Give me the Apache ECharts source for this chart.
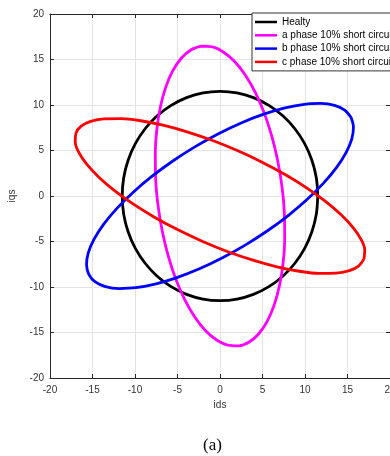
<!DOCTYPE html>
<html>
<head>
<meta charset="utf-8">
<script src="https://cdn.jsdelivr.net/npm/echarts@6/dist/echarts.min.js"></script>
<style>
html,body{margin:0;padding:0;background:#fff;}
#chart{width:390px;height:456px;}
</style>
</head>
<body>
<div id="chart"></div>
<script>
var seriesNames = ['Healty', 'a phase 10% short circuit', 'b phase 10% short circuit', 'c phase 10% short circuit'];
var seriesColors = ['#000000', '#ff00ff', '#0000ff', '#ff0000'];

var healty = [
  [11.5,0],[11.33,2.00],[10.81,3.93],[9.96,5.75],[8.81,7.39],[7.39,8.81],[5.75,9.96],[3.93,10.81],[2.00,11.33],
  [0,11.5],[-2.00,11.33],[-3.93,10.81],[-5.75,9.96],[-7.39,8.81],[-8.81,7.39],[-9.96,5.75],[-10.81,3.93],[-11.33,2.00],
  [-11.5,0],[-11.33,-2.00],[-10.81,-3.93],[-9.96,-5.75],[-8.81,-7.39],[-7.39,-8.81],[-5.75,-9.96],[-3.93,-10.81],[-2.00,-11.33],
  [0,-11.5],[2.00,-11.33],[3.93,-10.81],[5.75,-9.96],[7.39,-8.81],[8.81,-7.39],[9.96,-5.75],[10.81,-3.93],[11.33,-2.00],
  [11.5,0]
];
var aPhase = [
  [-2.20,16.46],[-3.43,16.05],[-4.56,15.14],[-5.55,13.77],[-6.37,11.99],[-7.00,9.84],[-7.42,7.39],[-7.61,4.72],[-7.57,1.90],
  [-7.30,-0.97],[-6.80,-3.82],[-6.10,-6.55],[-5.22,-9.08],[-4.18,-11.33],[-3.01,-13.24],[-1.75,-14.75],[-0.43,-15.80],[0.90,-16.38],
  [2.20,-16.46],[3.43,-16.05],[4.56,-15.14],[5.55,-13.77],[6.37,-11.99],[7.00,-9.84],[7.42,-7.39],[7.61,-4.72],[7.57,-1.90],
  [7.30,0.97],[6.80,3.82],[6.10,6.55],[5.22,9.08],[4.18,11.33],[3.01,13.24],[1.75,14.75],[0.43,15.80],[-0.90,16.38],
  [-2.20,16.46]
];
var bPhase = [
  [15.42,8.63],[14.67,9.44],[13.48,9.96],[11.87,10.17],[9.91,10.08],[7.65,9.68],[5.15,8.99],[2.49,8.03],[-0.24,6.82],
  [-2.96,5.40],[-5.59,3.82],[-8.06,2.12],[-10.27,0.36],[-12.18,-1.41],[-13.72,-3.14],[-14.83,-4.77],[-15.50,-6.26],[-15.70,-7.56],
  [-15.42,-8.63],[-14.67,-9.44],[-13.48,-9.96],[-11.87,-10.17],[-9.91,-10.08],[-7.65,-9.68],[-5.15,-8.99],[-2.49,-8.03],[0.24,-6.82],
  [2.96,-5.40],[5.59,-3.82],[8.06,-2.12],[10.27,-0.36],[12.18,1.41],[13.72,3.14],[14.83,4.77],[15.50,6.26],[15.70,7.56],
  [15.42,8.63]
];
var cPhase = [
  [16.94,-6.91],[17.03,-5.94],[16.61,-4.79],[15.68,-3.49],[14.28,-2.09],[12.45,-0.62],[10.23,0.87],[7.71,2.33],[4.95,3.72],
  [2.04,4.99],[-0.94,6.12],[-3.88,7.05],[-6.70,7.78],[-9.33,8.27],[-11.66,8.50],[-13.65,8.48],[-15.22,8.20],[-16.33,7.67],
  [-16.94,6.91],[-17.03,5.94],[-16.61,4.79],[-15.68,3.49],[-14.28,2.09],[-12.45,0.62],[-10.23,-0.87],[-7.71,-2.33],[-4.95,-3.72],
  [-2.04,-4.99],[0.94,-6.12],[3.88,-7.05],[6.70,-7.78],[9.33,-8.27],[11.66,-8.50],[13.65,-8.48],[15.22,-8.20],[16.33,-7.67],
  [16.94,-6.91]
];
var xTicks = {min: -20, max: 20, interval: 5};
var yTicks = {min: -20, max: 20, interval: 5};
var xName = 'ids', yName = 'iqs', caption = '(a)';

var allData = [healty, aPhase, bPhase, cPhase];
var FONT = '"Liberation Sans", Arial, Helvetica, sans-serif';
var axisCol = '#262626';

function axisBase(extra) {
  var base = {
    type: 'value',
    axisLine: {show: true, onZero: false, lineStyle: {color: axisCol, width: 1}},
    axisTick: {show: true, inside: true, length: 4, lineStyle: {color: axisCol}},
    axisLabel: {show: true, fontFamily: FONT, fontSize: 10, color: '#333'},
    splitLine: {show: false}
  };
  for (var k in extra) base[k] = extra[k];
  return base;
}

var chart = echarts.init(document.getElementById('chart'), null, {renderer: 'canvas'});
var option = {
  animation: false,
  backgroundColor: '#fff',
  grid: {left: 50, right: 0, top: 14, bottom: 78, containLabel: false, outerBoundsMode: 'none'},
  xAxis: [
    axisBase({position: 'bottom', min: xTicks.min, max: xTicks.max, interval: xTicks.interval,
      name: xName, nameLocation: 'middle', nameGap: 19,
      nameTextStyle: {fontFamily: FONT, fontSize: 10, color: '#333'},
      axisLabel: {fontFamily: FONT, fontSize: 10, color: '#333', margin: 7, alignMaxLabel: 'center', alignMinLabel: 'center'},
      splitLine: {show: true, lineStyle: {color: '#e3e3e3', width: 1}}}),
    axisBase({position: 'top', min: xTicks.min, max: xTicks.max, interval: xTicks.interval,
      axisLabel: {show: false}})
  ],
  yAxis: [
    axisBase({position: 'left', min: yTicks.min, max: yTicks.max, interval: yTicks.interval,
      name: yName, nameLocation: 'middle', nameGap: 33, nameRotate: 90,
      nameTextStyle: {fontFamily: FONT, fontSize: 10, color: '#333'},
      axisLabel: {fontFamily: FONT, fontSize: 10, color: '#333', margin: 6},
      splitLine: {show: true, lineStyle: {color: '#e3e3e3', width: 1}}}),
    axisBase({position: 'right', min: yTicks.min, max: yTicks.max, interval: yTicks.interval,
      axisLabel: {show: false}})
  ],
  legend: {
    show: true,
    orient: 'vertical',
    left: 252,
    top: 13,
    padding: [3, 20, 3, 3],
    itemGap: 1.3,
    itemWidth: 22,
    itemHeight: 2.5,
    icon: 'rect',
    backgroundColor: '#fff',
    borderColor: '#333',
    borderWidth: 1,
    borderRadius: 0,
    textStyle: {fontFamily: FONT, fontSize: 10, color: '#000', lineHeight: 12, padding: 0},
    data: seriesNames
  },
  graphic: [{
    type: 'text',
    left: 203,
    top: 437,
    style: {text: caption, font: '17px "Liberation Serif", "Times New Roman", serif', fill: '#000'}
  }],
  series: seriesNames.map(function (n, i) {
    return {
      name: n,
      type: 'line',
      data: allData[i],
      smooth: 0.35,
      showSymbol: false,
      symbol: 'none',
      lineStyle: {color: seriesColors[i], width: 2.8},
      itemStyle: {color: seriesColors[i]},
      clip: true
    };
  })
};
chart.setOption(option);
</script>
</body>
</html>
